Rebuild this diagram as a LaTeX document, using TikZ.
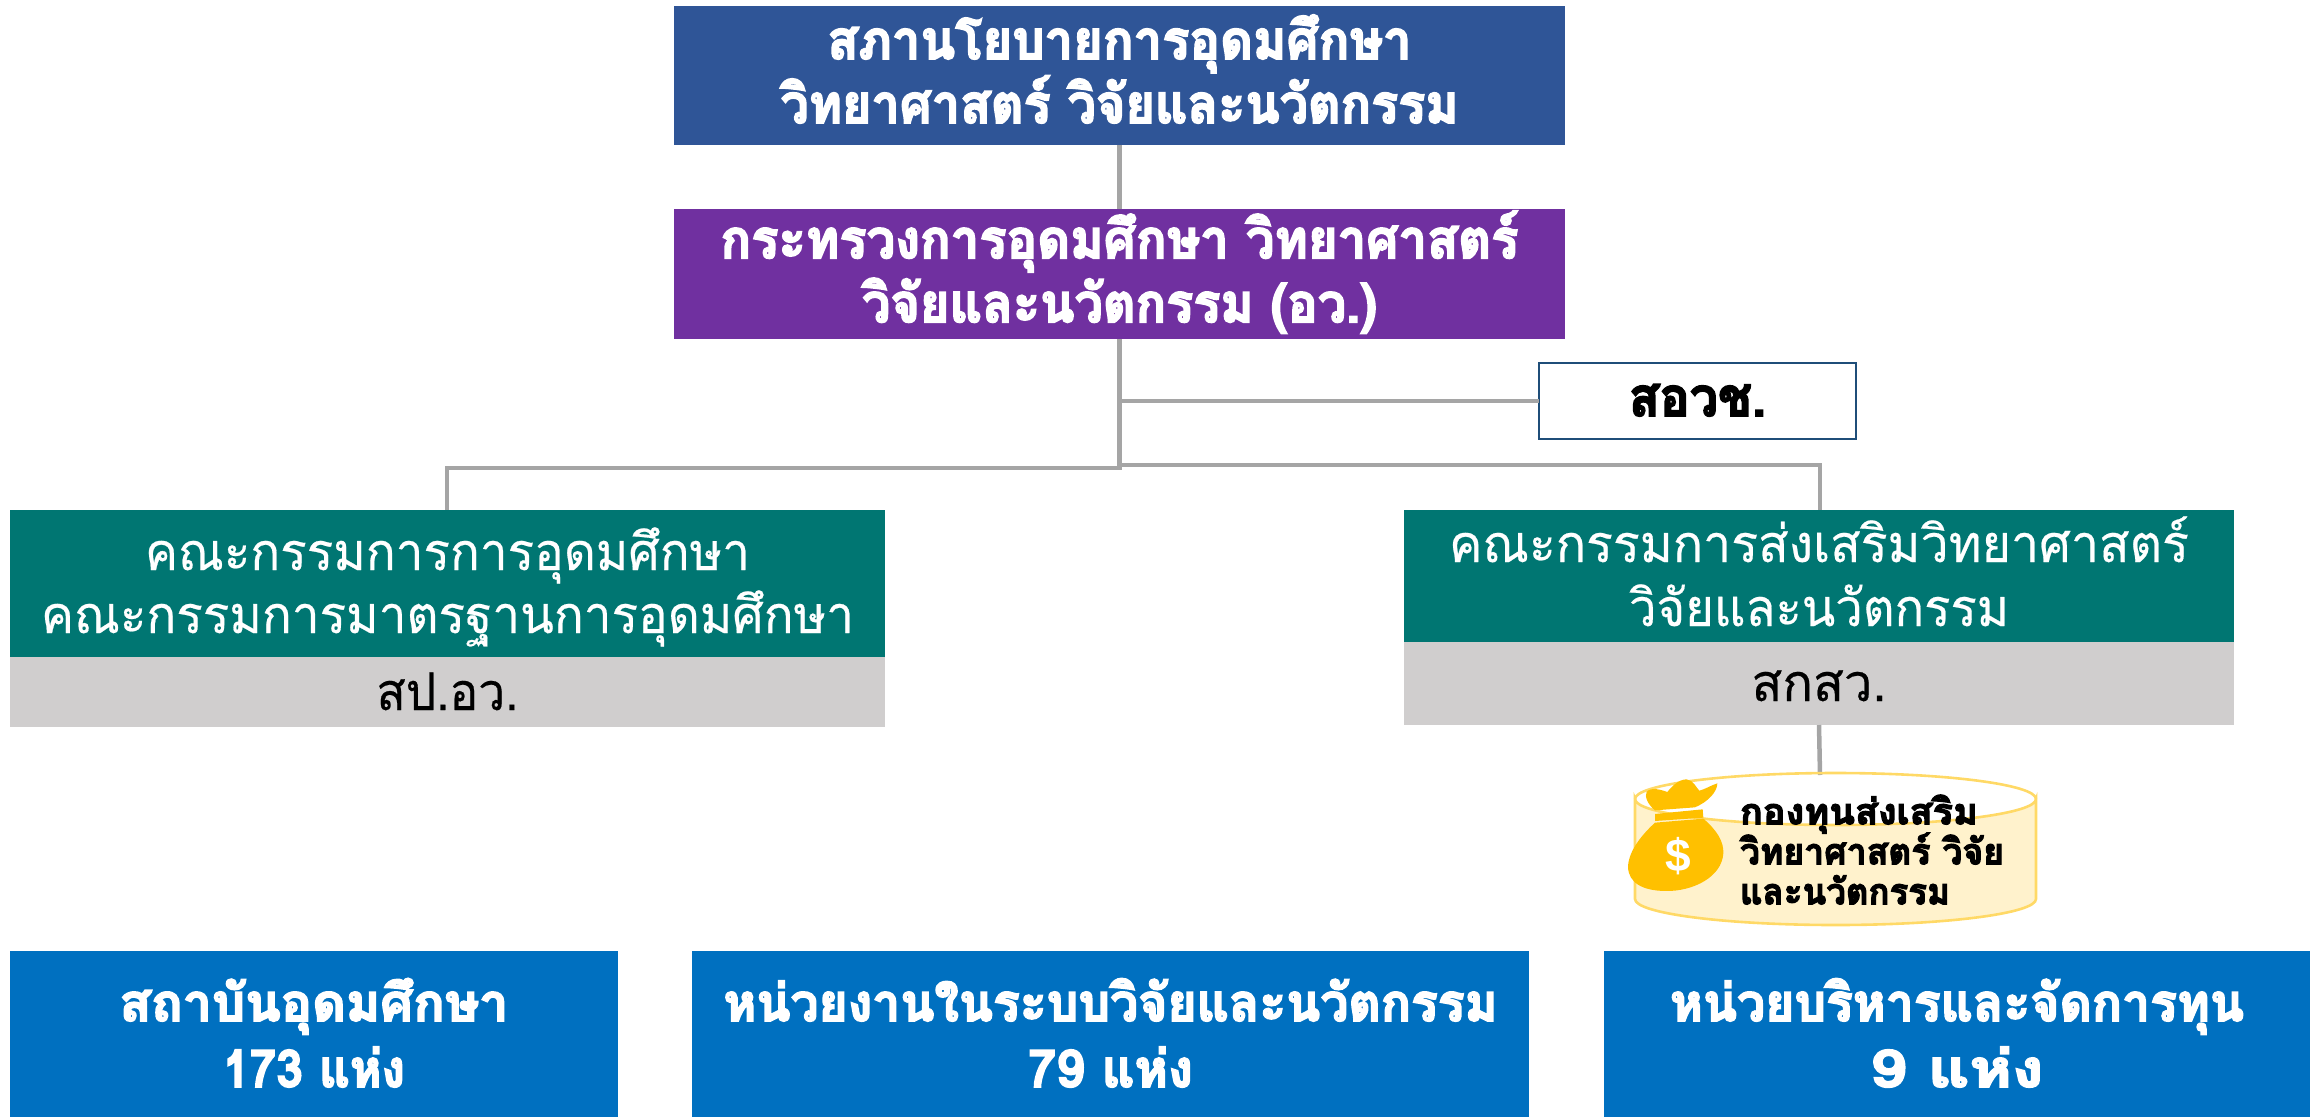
\documentclass[tikz,border=0pt]{standalone}
\usepackage{fontspec}
\setmainfont{Liberation Sans}
\newfontfamily\thaifont[Script=Thai,FakeBold=0.4,BoldFeatures={FakeBold=3.2}]{Loma}
\definecolor{cpolicy}{HTML}{2F5597}
\definecolor{cmin}{HTML}{7030A0}
\definecolor{cteal}{HTML}{007672}
\definecolor{cgray}{HTML}{D0CECE}
\definecolor{cunit}{HTML}{0070C0}
\definecolor{cline}{HTML}{A5A5A5}
\definecolor{cgold}{HTML}{FFC000}
\definecolor{cfill}{HTML}{FFF2CC}
\definecolor{cedge}{HTML}{FFD966}
\definecolor{cnavy}{HTML}{1F4E79}
\newcommand\fl[3]{\rule[-15pt]{0pt}{\dimexpr 30pt+#1pt\relax}\resizebox{#2pt}{\height}{#3}}
\normallineskiplimit=-1000pt
\normallineskip=0pt
\lineskiplimit=-1000pt
\lineskip=0pt
\tikzset{
  cell/.style={rectangle,inner sep=0pt,outer sep=0pt,anchor=north west,align=center},
  lines/.style n args={2}{font=\thaifont\fontsize{#1}{#2}\selectfont},
  conn/.style={draw=cline,line width=4.5pt},
  conn thin/.style={draw=cline,line width=3.6pt},
}
\begin{document}
\begin{tikzpicture}[x=1pt,y=-1pt]
\useasboundingbox (0,0) rectangle (2320,1117);
% connector bus points
\coordinate (busL) at (447,468);
\coordinate (busR) at (1820,465);
\coordinate (fundtop) at (1820,775);
% boxes
\node[cell,fill=cpolicy,text=white,minimum width=891pt,minimum height=139pt,lines={54}{64}] (policy) at (674,6)
  {\bfseries\fl{31}{584}{สภานโยบายการอุดมศึกษา}\\\bfseries\fl{31}{678}{วิทยาศาสตร์ วิจัยและนวัตกรรม}};
\node[cell,fill=cmin,text=white,minimum width=891pt,minimum height=130pt,lines={54}{64}] (ministry) at (674,209)
  {\bfseries\fl{30}{798}{กระทรวงการอุดมศึกษา วิทยาศาสตร์}\\\bfseries\fl{30}{515}{วิจัยและนวัตกรรม (อว.)}};
\node[cell,fill=white,draw=cnavy,line width=1.6pt,minimum width=317pt,minimum height=76pt,lines={54}{64}] (onec) at (1539,363)
  {\bfseries\fl{30}{137}{สอวช.}};
\node[cell,fill=cteal,text=white,minimum width=875pt,minimum height=147pt,lines={52}{63}] (heboard) at (10,510)
  {\fl{36}{605}{คณะกรรมการการอุดมศึกษา}\\\fl{36}{813}{คณะกรรมการมาตรฐานการอุดมศึกษา}};
\node[cell,fill=cgray,text=black,minimum width=875pt,minimum height=70pt,lines={52}{63}] (heoffice) at (10,657)
  {\fl{36}{142}{สป.อว.}};
\node[cell,fill=cteal,text=white,minimum width=830pt,minimum height=132pt,lines={52}{64}] (stiboard) at (1404,510)
  {\fl{36}{740}{คณะกรรมการส่งเสริมวิทยาศาสตร์}\\\fl{36}{380}{วิจัยและนวัตกรรม}};
\node[cell,fill=cgray,text=black,minimum width=830pt,minimum height=83pt,lines={52}{64}] (stioffice) at (1404,642)
  {\fl{35}{135}{สกสว.}};
\node[cell,fill=cunit,text=white,minimum width=608pt,minimum height=166pt,lines={52}{66}] (unitA) at (10,951)
  {\bfseries\fl{40}{389}{สถาบันอุดมศึกษา}\\\bfseries\fl{40}{182}{173 แห่ง}};
\node[cell,fill=cunit,text=white,minimum width=837pt,minimum height=166pt,lines={52}{66}] (unitB) at (692,951)
  {\bfseries\fl{40}{774}{หน่วยงานในระบบวิจัยและนวัตกรรม}\\\bfseries\fl{40}{165}{79 แห่ง}};
\node[cell,fill=cunit,text=white,minimum width=706pt,minimum height=166pt,lines={52}{66}] (unitC) at (1604,951)
  {\bfseries\fl{40}{574}{หน่วยบริหารและจัดการทุน}\\\bfseries\fl{40}{173}{9 แห่ง}};
% connectors
\draw[conn] (policy.south) -- (ministry.north);
\draw[conn] (ministry.south) -- (ministry.south |- busL) -- (busL) -- (heboard.north -| busL);
\draw[conn thin] (ministry.south |- busR) -- (busR) -- (stiboard.north -| busR);
\draw[conn] (ministry.south |- onec.west) -- (onec.west);
\draw[conn] (stioffice.south) -- (fundtop);
% fund cylinder
\draw[cedge,line width=2.6pt,fill=cfill] (1635,799) arc[x radius=200.5,y radius=26,start angle=180,end angle=0]
  -- (2036,899) arc[x radius=200.5,y radius=26,start angle=0,end angle=180] -- cycle;
\draw[cedge,line width=2.6pt] (1635,799) arc[x radius=200.5,y radius=26,start angle=180,end angle=360];
% money bag
\begin{scope}[shift={(1580,720)},x=0.3333pt,y=-0.3333pt]
\fill[cgold] (225,308) -- (370,296)
  .. controls (410,330) and (432,365) .. (430,400)
  .. controls (426,470) and (340,515) .. (255,513)
  .. controls (190,512) and (145,490) .. (144,440)
  .. controls (146,390) and (190,340) .. (225,308) -- cycle;
\fill[cgold] (225,282) -- (368,268) -- (370,293) -- (225,303) -- cycle;
\fill[cgold] (225,271) .. controls (205,255) and (192,230) .. (200,215)
  .. controls (215,200) and (245,210) .. (262,216)
  .. controls (275,200) and (295,178) .. (320,178)
  .. controls (340,180) and (350,205) .. (358,212)
  .. controls (375,208) and (395,195) .. (412,190)
  .. controls (412,215) and (385,245) .. (345,262) -- cycle;
\end{scope}
\node[text=white,inner sep=0pt,font=\fontsize{46}{46}\selectfont\bfseries] (dollar) at (1678,856) {\$};
% fund label
\node[inner sep=0pt,text=black,align=left,lines={36}{40}] (fund) at (1872,857)
  {\bfseries\fl{0}{238}{กองทุนส่งเสริม}\\\bfseries\fl{0}{264}{วิทยาศาสตร์ วิจัย}\\\bfseries\fl{0}{210}{และนวัตกรรม}};
\end{tikzpicture}
\end{document}
